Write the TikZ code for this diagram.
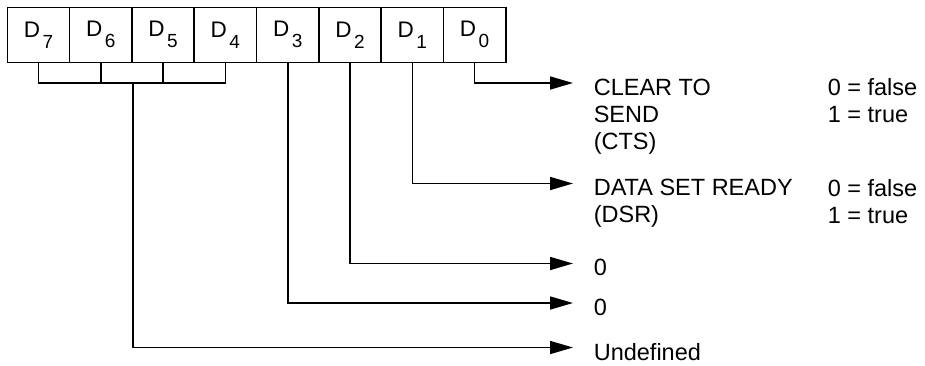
\documentclass[tikz,border=0pt]{standalone}
\usepackage{fontspec}
\setmainfont{Liberation Sans}
\usetikzlibrary{arrows.meta}

\newcommand{\bitname}[1]{D\kern2.5pt\raisebox{-11pt}{\fontsize{19}{19}\selectfont #1}}

\begin{document}
\begin{tikzpicture}[x=1pt, y=-1pt, line width=1.6pt, node distance={62.3pt},
    bit/.style = {draw, minimum width=62.3pt, minimum height=55pt, inner sep=0pt, font=\fontsize{22.5}{22.5}\selectfont},
    txt/.style = {anchor=north west, inner sep=0pt, align=left, font=\fontsize{23.5}{27}\selectfont},
    arr/.style = {-{Triangle[length=23pt, width=13pt]}}]
    \useasboundingbox (0,0) rectangle (925,365);

    \node[bit] (D7) at (38.5,34.8) {\bitname{7}};
    \node[bit] (D6) [right of=D7] {\bitname{6}};
    \node[bit] (D5) [right of=D6] {\bitname{5}};
    \node[bit] (D4) [right of=D5] {\bitname{4}};
    \node[bit] (D3) [right of=D4] {\bitname{3}};
    \node[bit] (D2) [right of=D3] {\bitname{2}};
    \node[bit] (D1) [right of=D2] {\bitname{1}};
    \node[bit] (D0) [right of=D1] {\bitname{0}};

    \node[txt] (cts) at (593,78) {CLEAR TO\\SEND\\(CTS)};
    \node[txt] (ctsval) at (827,78) {0 = false\\1 = true};
    \node[txt] (dsr) at (593,178.5) {DATA SET READY\\(DSR)};
    \node[txt] (dsrval) at (827,178.5) {0 = false\\1 = true};
    \node[txt] (zeroA) at (593,258.5) {0};
    \node[txt] (zeroB) at (593,298) {0};
    \node[txt] (undef) at (593,342.5) {Undefined};

    % D7..D4 joined
    \coordinate (bar) at (0,82.7);
    \draw (D7.south) |- (D4.south |- bar) -- (D4.south);
    \draw (D6.south) -- (D6.south |- bar);
    \draw (D5.south) -- (D5.south |- bar);

    \draw[arr] (D0.south) |- ([xshift=-20pt,yshift=-5pt]cts.north west);
    \draw[arr] (D1.south) |- ([xshift=-20pt,yshift=-5pt]dsr.north west);
    \draw[arr] (D2.south) |- ([xshift=-20pt,yshift=-5pt]zeroA.north west);
    \draw[arr] (D3.south) |- ([xshift=-20pt,yshift=-5pt]zeroB.north west);
    \draw[arr] (D6.south east |- bar) |- ([xshift=-20pt,yshift=-5pt]undef.north west);
\end{tikzpicture}
\end{document}
